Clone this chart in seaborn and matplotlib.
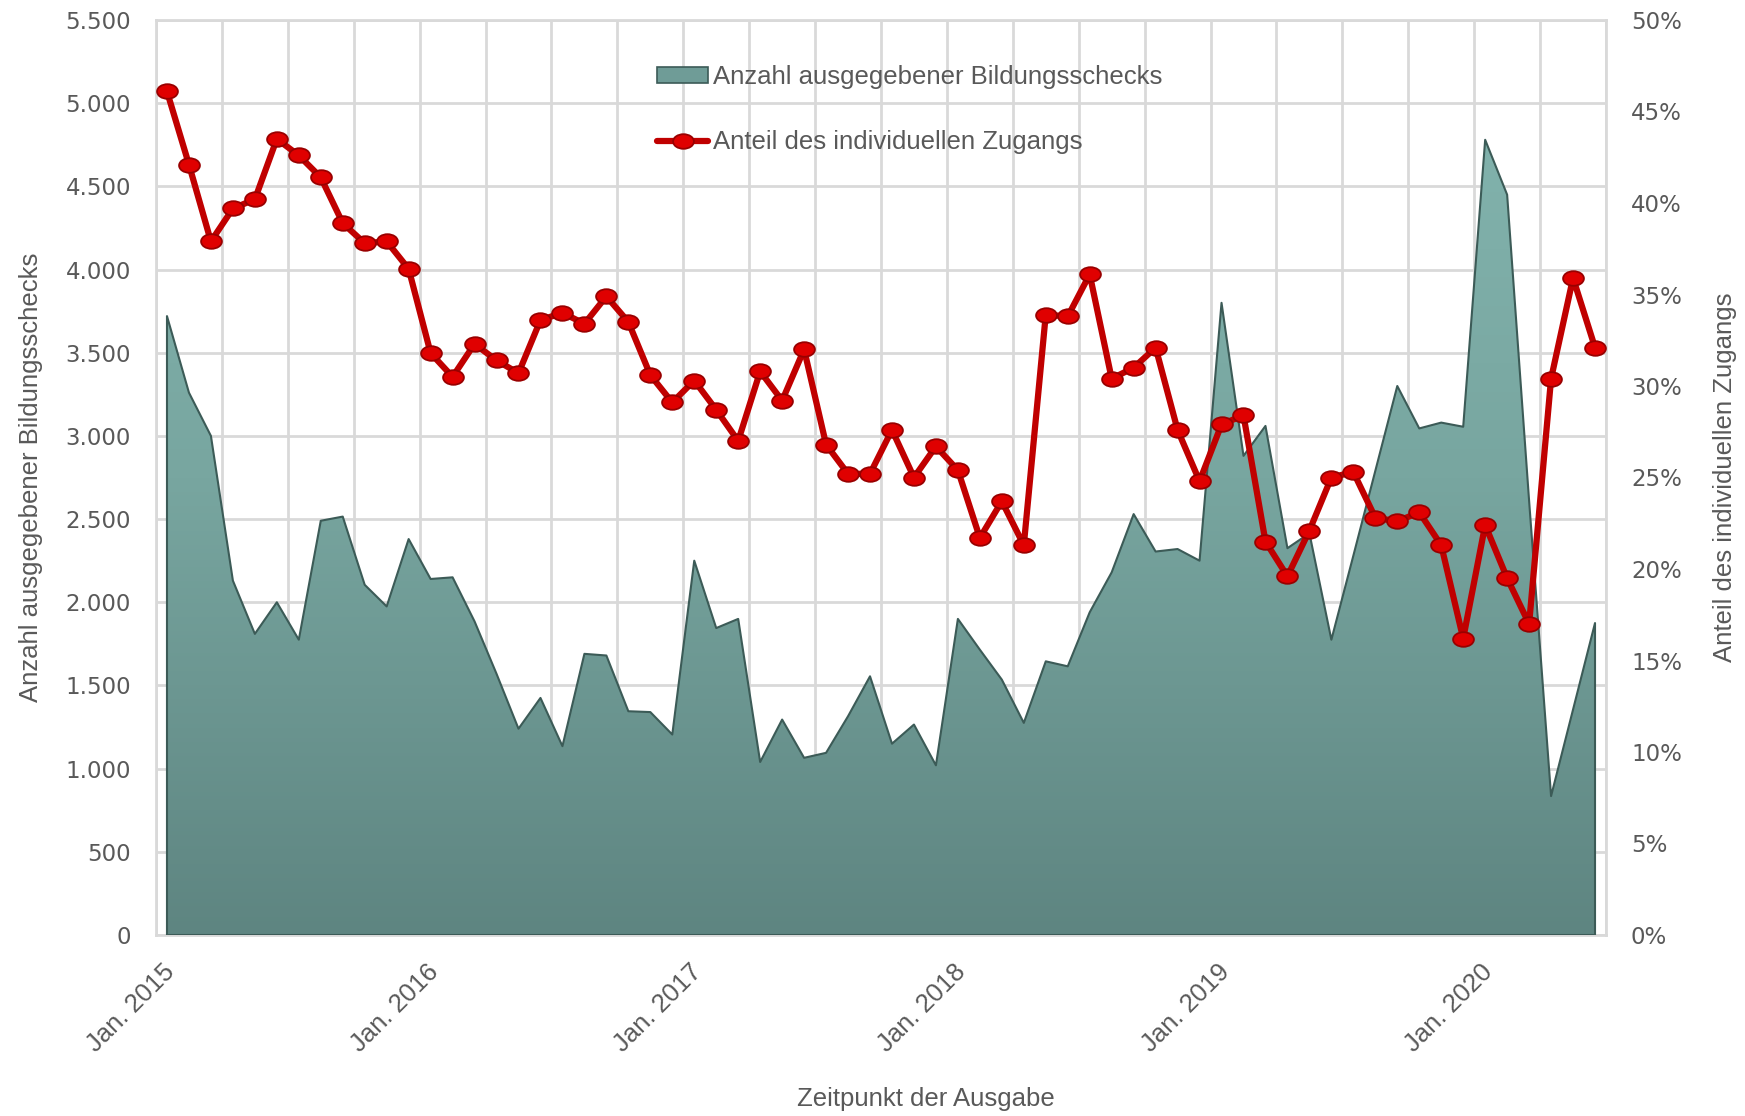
import seaborn as sns
import matplotlib.pyplot as plt
import pandas as pd
import numpy as np
from matplotlib.colors import LinearSegmentedColormap
from matplotlib.patches import Patch
from matplotlib.lines import Line2D
from matplotlib.path import Path
from matplotlib.transforms import Affine2D, ScaledTranslation
from matplotlib.ticker import FuncFormatter

sns.set_theme(style="white")
plt.rcParams['font.family'] = ['Liberation Sans', 'DejaVu Sans']

# Monthly data Jan 2015 - Jun 2020
monate = pd.date_range("2015-01-01", "2020-06-01", freq="MS")

anzahl = [3720, 3260, 3000, 2130, 1810, 2000, 1775, 2490, 2515, 2105, 1975, 2380,
          2140, 2150, 1885, 1570, 1240, 1425, 1135, 1690, 1680, 1345, 1340, 1205,
          2250, 1845, 1900, 1040, 1295, 1065, 1095, 1315, 1555, 1150, 1265, 1020,
          1900, 1715, 1535, 1275, 1645, 1615, 1940, 2180, 2530, 2305, 2320, 2250,
          3800, 2880, 3060, 2325, 2415, 1775, 2280, 2790, 3300, 3045, 3080, 3055,
          4780, 4450, 2610, 835, 1355, 1875]

anteil = [46.1, 42.1, 37.9, 39.7, 40.2, 43.5, 42.6, 41.4, 38.9, 37.8, 37.9, 36.4,
          31.8, 30.5, 32.3, 31.4, 30.7, 33.6, 34.0, 33.4, 34.9, 33.5, 30.6, 29.1,
          30.3, 28.7, 27.0, 30.8, 29.2, 32.0, 26.8, 25.2, 25.2, 27.6, 25.0, 26.7,
          25.4, 21.7, 23.7, 21.3, 33.9, 33.8, 36.1, 30.4, 31.0, 32.1, 27.6, 24.8,
          27.9, 28.4, 21.5, 19.6, 22.1, 25.0, 25.3, 22.8, 22.6, 23.1, 21.3, 16.2,
          22.4, 19.5, 17.0, 30.4, 35.9, 32.1]

label_area = "Anzahl ausgegebener Bildungsschecks"
label_line = "Anteil des individuellen Zugangs"

grau = "#595959"
rot = "#c00000"
x = np.arange(len(monate))
n = len(monate)

fig = plt.figure(figsize=(17.45, 11.16), dpi=100)
ax = fig.add_axes([156 / 1745, 1 - 935 / 1116, 1450 / 1745, 915 / 1116])

# area with vertical gradient
poly = ax.fill_between(x, anzahl, 0, facecolor="none", edgecolor="#3c5b57", lw=1.5, zorder=3)
cmap = LinearSegmentedColormap.from_list("teal", ["#5e8581", "#78a6a0", "#84b6b0"])
grad = np.linspace(0, 1, 256).reshape(-1, 1)
im = ax.imshow(grad, extent=(-0.5, n - 0.5, 0, 5500), origin="lower", aspect="auto",
               cmap=cmap, zorder=2)
im.set_clip_path(poly.get_paths()[0], ax.transData)

ax.set_xlim(-0.5, n - 0.5)
ax.set_ylim(0, 5500)
ax.set_yticks(range(0, 5501, 500))
ax.yaxis.set_major_formatter(FuncFormatter(lambda v, p: f"{int(v):,}".replace(",", ".")))

# year labels at January, grid every quarter
jan = [i for i, d in enumerate(monate) if d.month == 1]
ax.set_xticks(jan)
ax.set_xticklabels([f"Jan. {monate[i].year}" for i in jan], rotation=45, ha="right",
                   va="center", rotation_mode="anchor")
ax.set_xticks(np.arange(-0.5, n, 3), minor=True)
ax.grid(False)
ax.grid(which="minor", axis="x", color="#d9d9d9", lw=2)
ax.grid(which="major", axis="y", color="#d9d9d9", lw=2)
ax.set_axisbelow(True)
ax.tick_params(axis="both", which="both", length=0)
ax.tick_params(axis="y", labelsize=16.5, colors=grau, pad=18)
ax.tick_params(axis="x", labelsize=18.5, colors=grau, pad=24)
for lbl in ax.get_yticklabels():
    lbl.set_fontfamily("DejaVu Sans")
for lbl in ax.get_xticklabels():
    lbl.set_transform(lbl.get_transform() + ScaledTranslation(0.04, 0, fig.dpi_scale_trans))
for s in ax.spines.values():
    s.set_color("#d9d9d9")
    s.set_linewidth(2)

ax.set_ylabel(label_area, fontsize=18.5, color=grau)
ax.yaxis.set_label_coords(-0.078, 0.5)
ax.set_xlabel("Zeitpunkt der Ausgabe", fontsize=18.5, color=grau)
ax.xaxis.set_label_coords(0.531, -0.166)

# share line on the right axis
ellipse = Path.unit_circle().transformed(Affine2D().scale(1, 0.7))
ax2 = ax.twinx()
sns.lineplot(x=x, y=anteil, ax=ax2, color=rot, lw=4.5, marker=ellipse, markersize=15,
             markerfacecolor="#e00000", markeredgecolor="#990000", markeredgewidth=1.3,
             legend=False, zorder=5)
ax2.set_ylim(0, 50)
ax2.set_yticks(range(0, 51, 5))
ax2.yaxis.set_major_formatter(FuncFormatter(lambda v, p: f"{int(v)}%"))
ax2.grid(False)
ax2.tick_params(axis="y", length=0, labelsize=16.5, colors=grau, pad=18)
for lbl in ax2.get_yticklabels():
    lbl.set_fontfamily("DejaVu Sans")
for s in ax2.spines.values():
    s.set_visible(False)
ax2.set_ylabel(label_line, fontsize=18.5, color=grau)
ax2.yaxis.set_label_coords(1.0738, 0.5)

handles = [
    Patch(facecolor="#6f9c97", edgecolor="#3c5b57", lw=1.2),
    Line2D([], [], color=rot, lw=4.5, marker=ellipse, markersize=15,
           markerfacecolor="#e00000", markeredgecolor="#990000", markeredgewidth=1.3),
]
leg = ax2.legend(handles, [label_area, label_line], loc="upper left",
                 bbox_to_anchor=(0.337, 0.965), frameon=False, borderpad=0,
                 handlelength=1.95, handleheight=0.55, handletextpad=0.2,
                 labelspacing=1.6, fontsize=18.5)
for t in leg.get_texts():
    t.set_color(grau)

fig.savefig("out.png", dpi=100)
